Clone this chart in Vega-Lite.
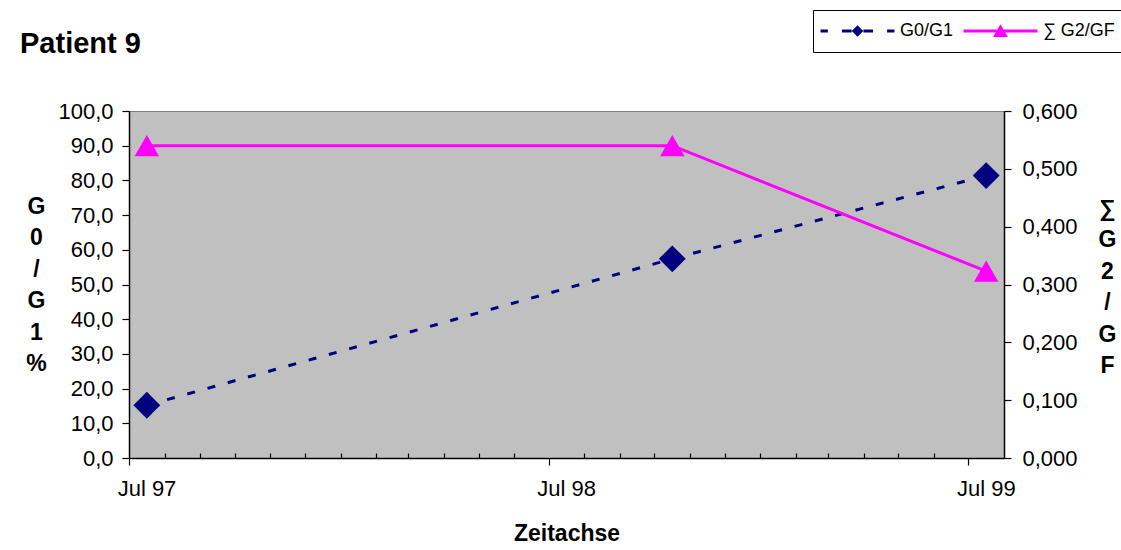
{
  "$schema": "https://vega.github.io/schema/vega-lite/v6.json",
  "width": 875,
  "height": 347,
  "autosize": {"type": "none"},
  "padding": {"left": 129, "top": 111, "right": 117, "bottom": 92},
  "background": "white",
  "config": {
    "locale": {"number": {"decimal": ",", "thousands": ".", "grouping": [3], "currency": ["", " €"]}},
    "view": {"fill": "#C0C0C0", "stroke": "#808080", "strokeWidth": 1},
    "font": "Liberation Sans",
    "axis": {
      "labelFont": "Liberation Sans", "labelFontSize": 22, "labelColor": "black",
      "titleFont": "Liberation Sans", "titleFontSize": 23, "titleFontWeight": "bold", "titleColor": "black",
      "domainColor": "black", "tickColor": "black", "grid": false, "domainWidth": 1.5, "tickWidth": 1.2
    },
    "legend": {
      "orient": "none", "legendX": 684, "legendY": -101, "direction": "horizontal", "columns": 2,
      "padding": 6, "strokeColor": "black", "fillColor": "white", "symbolSize": 5476, "symbolStrokeWidth": 3, "symbolOpacity": 1,
      "labelFont": "Liberation Sans", "labelFontSize": 18, "labelColor": "black", "labelOffset": 4, "columnPadding": 8,
      "clipHeight": 30, "labelLimit": 200
    }
  },
  "title": {"text": "Patient 9", "anchor": "start", "frame": "group", "dx": -109, "offset": -72, "baseline": "alphabetic", "font": "Liberation Sans", "fontSize": 29, "fontWeight": "bold", "color": "black"},
  "data": {"values": [
    {"date": "1997-07-16T12:00:00", "series": "G0/G1", "value": 15.2},
    {"date": "1998-10-16T12:00:00", "series": "G0/G1", "value": 57.4},
    {"date": "1999-07-16T12:00:00", "series": "G0/G1", "value": 81.4},
    {"date": "1997-07-16T12:00:00", "series": "∑ G2/GF", "value": 0.540},
    {"date": "1998-10-16T12:00:00", "series": "∑ G2/GF", "value": 0.540},
    {"date": "1999-07-16T12:00:00", "series": "∑ G2/GF", "value": 0.323}
  ]},
  "layer": [
    {
      "transform": [{"filter": "datum.series === 'G0/G1'"}],
      "encoding": {
        "x": {"field": "date", "type": "temporal",
          "scale": {"domain": [{"year": 1997, "month": 7, "date": 1}, {"year": 1999, "month": 8, "date": 1}]},
          "axis": {"orient": "bottom",
            "values": [{"year": 1997, "month": 7, "date": 1}, {"year": 1998, "month": 7, "date": 1}, {"year": 1999, "month": 7, "date": 1}],
            "format": "%b %y", "labelOffset": 17.5, "tickSize": 7, "labelPadding": 13, "labelFlush": false, "labelOverlap": false,
            "title": "Zeitachse", "titleY": 82, "titleBaseline": "alphabetic"}},
        "y": {"field": "value", "type": "quantitative",
          "scale": {"domain": [0, 100], "nice": false},
          "axis": {"orient": "left", "values": [0, 10, 20, 30, 40, 50, 60, 70, 80, 90, 100], "format": ".1f",
            "tickSize": 7, "labelPadding": 9,
            "title": ["G", "0", "/", "G", "1", "%"], "titleAngle": 0, "titleAlign": "center", "titleBaseline": "alphabetic",
            "titleX": -93, "titleY": 102, "titleLineHeight": 31.5}}
      },
      "layer": [
        {"mark": {"type": "line", "color": "#000080", "strokeWidth": 3, "strokeDash": [8, 13]}, "encoding": {}},
        {"mark": {"type": "point", "shape": "diamond", "filled": true, "size": 720, "opacity": 1, "color": "#000080"}},
        {"mark": {"type": "point", "filled": true, "opacity": 0, "strokeWidth": 3},
          "encoding": {
            "color": {"field": "series", "type": "nominal", "title": null,
              "scale": {"domain": ["G0/G1", "∑ G2/GF"], "range": ["#000080", "#FF00FF"]}},
            "stroke": {"field": "series", "type": "nominal", "title": null,
              "scale": {"domain": ["G0/G1", "∑ G2/GF"], "range": ["#000080", "#FF00FF"]}},
            "shape": {"field": "series", "type": "nominal", "title": null,
              "scale": {"domain": ["G0/G1", "∑ G2/GF"], "range": [
                "M-1,0H-0.8M-0.42,0H-0.16M0.16,0H0.42M0.8,0H1M0,-0.1L0.1,0L0,0.1L-0.1,0Z",
                "M-1,0H1M0,-0.1L0.13,0.12L-0.13,0.12Z"]}}
          }}
      ]
    },
    {
      "transform": [{"filter": "datum.series !== 'G0/G1'"}],
      "encoding": {
        "x": {"field": "date", "type": "temporal",
          "scale": {"domain": [{"year": 1997, "month": 7, "date": 1}, {"year": 1999, "month": 8, "date": 1}]},
          "axis": {"orient": "bottom", "labels": false, "domain": false, "tickSize": -5, "title": null,
            "values": [
              {"year": 1997, "month": 8, "date": 1}, {"year": 1997, "month": 9, "date": 1}, {"year": 1997, "month": 10, "date": 1},
              {"year": 1997, "month": 11, "date": 1}, {"year": 1997, "month": 12, "date": 1}, {"year": 1998, "month": 1, "date": 1},
              {"year": 1998, "month": 2, "date": 1}, {"year": 1998, "month": 3, "date": 1}, {"year": 1998, "month": 4, "date": 1},
              {"year": 1998, "month": 5, "date": 1}, {"year": 1998, "month": 6, "date": 1},
              {"year": 1998, "month": 8, "date": 1}, {"year": 1998, "month": 9, "date": 1}, {"year": 1998, "month": 10, "date": 1},
              {"year": 1998, "month": 11, "date": 1}, {"year": 1998, "month": 12, "date": 1}, {"year": 1999, "month": 1, "date": 1},
              {"year": 1999, "month": 2, "date": 1}, {"year": 1999, "month": 3, "date": 1}, {"year": 1999, "month": 4, "date": 1},
              {"year": 1999, "month": 5, "date": 1}, {"year": 1999, "month": 6, "date": 1}
            ]}},
        "y": {"field": "value", "type": "quantitative",
          "scale": {"domain": [0, 0.6], "nice": false},
          "axis": {"orient": "right", "values": [0, 0.1, 0.2, 0.3, 0.4, 0.5, 0.6], "format": ".3f",
            "tickSize": 7, "labelPadding": 11,
            "title": ["∑", "G", "2", "/", "G", "F"], "titleAngle": 0, "titleAlign": "center", "titleBaseline": "alphabetic",
            "titleX": 103, "titleY": 104, "titleLineHeight": 31.5}}
      },
      "layer": [
        {"mark": {"type": "line", "color": "#FF00FF", "strokeWidth": 3}, "encoding": {}},
        {"mark": {"type": "point", "shape": "triangle-up", "filled": true, "size": 600, "opacity": 1, "color": "#FF00FF"}}
      ]
    }
  ],
  "resolve": {"scale": {"y": "independent"}, "axis": {"x": "independent"}}
}
